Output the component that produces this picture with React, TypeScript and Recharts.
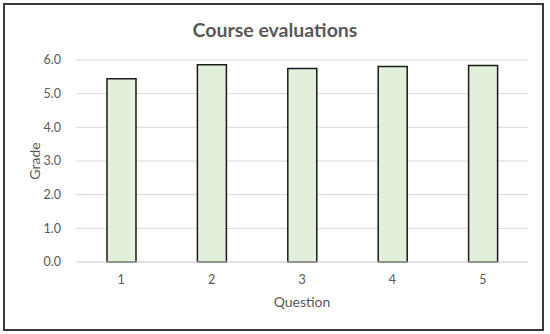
import React from 'react';
import { BarChart, Bar, XAxis, YAxis, CartesianGrid, Label } from 'recharts';

const questions = ['1', '2', '3', '4', '5'];
const grades = [5.44, 5.86, 5.75, 5.81, 5.84];
const yTicks = [0, 1, 2, 3, 4, 5, 6];

const data = questions.map((q, i) => ({ question: q, grade: grades[i] }));

const FONT = 'Lato, "Open Sans", "Liberation Sans", sans-serif';
const TEXT = '#595959';

const GradeLabel = (props: any) => {
  const vb = props.viewBox || {};
  const cx = 34;
  const cy = vb.y + vb.height / 2;
  return (
    <text
      x={cx}
      y={cy}
      transform={`rotate(-90 ${cx} ${cy})`}
      textAnchor="middle"
      dominantBaseline="central"
      fill={TEXT}
      fontSize={14}
      fontFamily={FONT}
    >
      Grade
    </text>
  );
};

export default function App() {
  return (
    <div style={{ position: 'absolute', left: 0, top: 0, width: 550, height: 334, background: '#fff', fontFamily: FONT }}>
      <div
        style={{
          position: 'absolute',
          left: 3,
          top: 3,
          width: 537,
          height: 324,
          border: '2px solid #3a3a3a',
        }}
      />
      <div
        style={{
          position: 'absolute',
          left: 0,
          top: 18,
          width: 550,
          textAlign: 'center',
          fontSize: 19.5,
          fontWeight: 700,
          color: TEXT,
          fontFamily: FONT,
          lineHeight: '24px',
        }}
      >
        Course evaluations
      </div>
      <BarChart
        width={550}
        height={334}
        data={data}
        margin={{ top: 60, right: 22, left: 0, bottom: 0 }}
        style={{ position: 'absolute', left: 0, top: 0 }}
      >
        <CartesianGrid vertical={false} stroke="#D9D9D9" strokeWidth={1} />
        <XAxis
          dataKey="question"
          height={72}
          axisLine={{ stroke: '#D9D9D9' }}
          tickLine={false}
          tickMargin={7}
          tick={{ fill: TEXT, fontSize: 12.5, fontFamily: FONT }}
        >
          <Label value="Question" position="insideBottom" offset={27} fill={TEXT} fontSize={14} fontFamily={FONT} />
        </XAxis>
        <YAxis
          width={76}
          domain={[0, 6]}
          ticks={yTicks}
          axisLine={false}
          tickLine={false}
          tickMargin={9}
          tickFormatter={(v: number) => v.toFixed(1)}
          tick={{ fill: TEXT, fontSize: 12.5, fontFamily: FONT }}
        >
          <Label content={GradeLabel} />
        </YAxis>
        <Bar dataKey="grade" fill="#E2EFDA" stroke="#1a1a1a" strokeWidth={1.5} barSize={29} isAnimationActive={false} />
      </BarChart>
    </div>
  );
}
